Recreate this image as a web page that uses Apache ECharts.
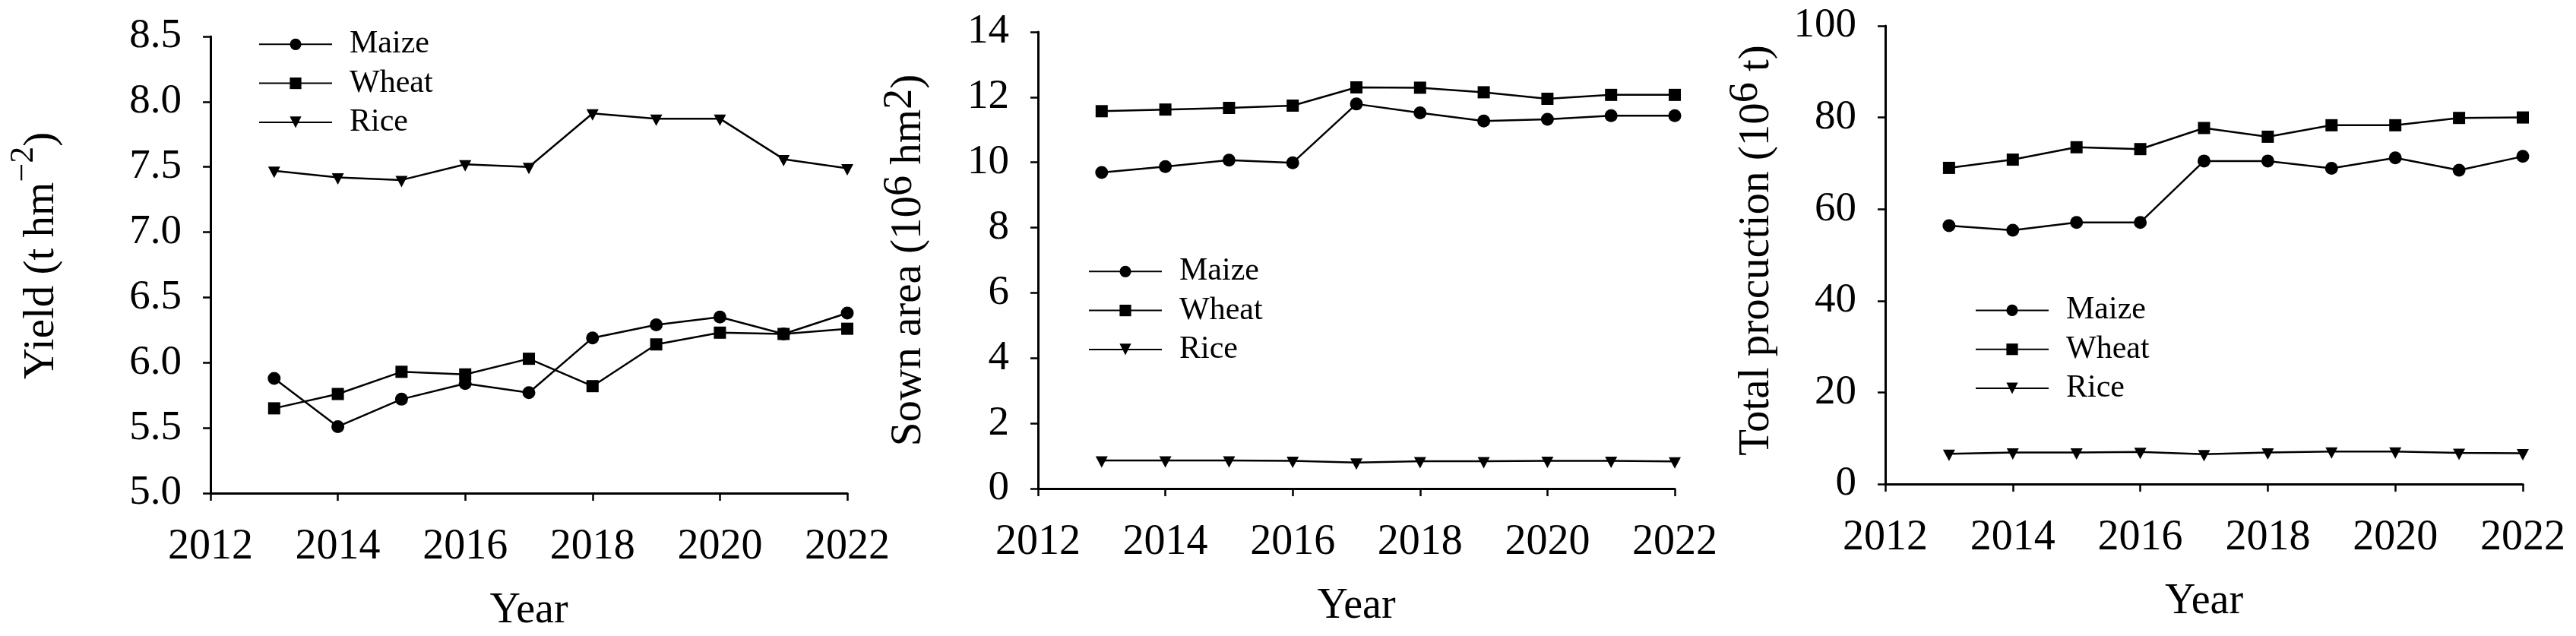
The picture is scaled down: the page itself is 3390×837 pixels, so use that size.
<!DOCTYPE html>
<html><head><meta charset="utf-8">
<script src="https://cdn.jsdelivr.net/npm/echarts@6/dist/echarts.min.js"></script>
<style>html,body{margin:0;padding:0;background:#fff}#c{width:3390px;height:837px}</style>
</head><body><div id="c"></div>
<script>
const years = [2013, 2014, 2015, 2016, 2017, 2018, 2019, 2020, 2021, 2022];
const seriesNames = ['Maize', 'Wheat', 'Rice'];

const yieldMaize = [5.88, 5.51, 5.72, 5.84, 5.77, 6.19, 6.29, 6.35, 6.22, 6.38];
const yieldWheat = [5.65, 5.76, 5.93, 5.91, 6.03, 5.82, 6.14, 6.23, 6.22, 6.26];
const yieldRice  = [7.47, 7.42, 7.40, 7.52, 7.50, 7.91, 7.87, 7.87, 7.56, 7.49];

const areaMaize = [9.69, 9.87, 10.07, 9.99, 11.79, 11.52, 11.27, 11.32, 11.43, 11.43];
const areaWheat = [11.57, 11.62, 11.67, 11.74, 12.30, 12.29, 12.15, 11.95, 12.07, 12.07];
const areaRice  = [0.86, 0.86, 0.86, 0.85, 0.80, 0.84, 0.84, 0.85, 0.85, 0.83];

const prodMaize = [56.4, 55.4, 57.1, 57.1, 70.5, 70.5, 68.9, 71.2, 68.5, 71.5];
const prodWheat = [69.0, 70.8, 73.5, 73.1, 77.7, 75.8, 78.3, 78.3, 79.9, 80.0];
const prodRice  = [6.6, 6.9, 6.9, 7.0, 6.5, 6.9, 7.1, 7.1, 6.8, 6.7];

const xTicks = { min: 2012, max: 2022, interval: 2 };
const yTicks = [
  { min: 5, max: 8.5, interval: 0.5, digits: 1 },
  { min: 0, max: 14, interval: 2, digits: 0 },
  { min: 0, max: 100, interval: 20, digits: 0 }
];
const xTitle = 'Year';
const yTitles = [
  '{m|Yield (t hm}{s|\u22122}{m|)}',
  '{m|Sown area (10}{s|6}{m| hm}{s|2}{m|)}',
  '{m|Total procuction (10}{s|6}{m| t)}'
];

const FONT = 'Liberation Serif';
const grids = [
  { left: 277, top: 48, width: 838, height: 601 },
  { left: 1366, top: 42, width: 838, height: 601 },
  { left: 2481, top: 34, width: 839, height: 603 }
];
const nameGaps = [176, 132, 128];
const nameRich = [
  { m: { fontSize: 57, lineHeight: 92, fontFamily: FONT, color: '#000' }, s: { fontSize: 44, verticalAlign: 'top', fontFamily: FONT, color: '#000' } },
  { m: { fontSize: 57, lineHeight: 76, fontFamily: FONT, color: '#000' }, s: { fontSize: 54, verticalAlign: 'top', fontFamily: FONT, color: '#000' } },
  { m: { fontSize: 57, lineHeight: 82, fontFamily: FONT, color: '#000' }, s: { fontSize: 54, verticalAlign: 'top', fontFamily: FONT, color: '#000' } }
];
const namePad = [[0, 0, 0, 24], [0, 0, 0, 0], [0, 0, 0, 12]];
const legendPos = [{ left: 340, top: 37.3 }, { left: 1432, top: 336.3 }, { left: 2599, top: 387.4 }];

const panels = [
  [yieldMaize, yieldWheat, yieldRice],
  [areaMaize, areaWheat, areaRice],
  [prodMaize, prodWheat, prodRice]
];
const symbols = ['circle', 'rect', 'path://M0,0L10,0L5,9.4Z'];
const symbolSizes = [17, 16, [16, 15]];
const symbolOffsets = [[0, 0], [0, 0], [0, 2]];

const xAxes = [], yAxes = [], series = [], legends = [];
for (let i = 0; i < 3; i++) {
  xAxes.push({
    gridIndex: i, type: 'value', min: xTicks.min, max: xTicks.max, interval: xTicks.interval,
    axisLine: { onZero: false, lineStyle: { color: '#000', width: 3 } },
    axisTick: { length: 10, lineStyle: { color: '#000', width: 2.5 } },
    axisLabel: { margin: 43, fontSize: 56, color: '#000', fontFamily: FONT,
      formatter: (v) => String(v) },
    splitLine: { show: false },
    name: xTitle, nameLocation: 'middle', nameGap: 127,
    nameTextStyle: { fontSize: 56, color: '#000', fontFamily: FONT }
  });
  const yt = yTicks[i];
  yAxes.push({
    gridIndex: i, type: 'value', min: yt.min, max: yt.max, interval: yt.interval,
    axisLine: { show: true, onZero: false, lineStyle: { color: '#000', width: 3 } },
    axisTick: { show: true, length: 10, lineStyle: { color: '#000', width: 2.5 } },
    axisLabel: { margin: 38, fontSize: 55, color: '#000', fontFamily: FONT,
      formatter: (v) => v.toFixed(yt.digits) },
    splitLine: { show: false },
    name: yTitles[i], nameLocation: 'middle', nameGap: nameGaps[i],
    nameTextStyle: { rich: nameRich[i], padding: namePad[i] }
  });
  for (let k = 0; k < 3; k++) {
    series.push({
      type: 'line', name: seriesNames[k], xAxisIndex: i, yAxisIndex: i,
      data: years.map((y, j) => [y, panels[i][k][j]]),
      symbol: symbols[k], symbolSize: symbolSizes[k], symbolOffset: symbolOffsets[k],
      showAllSymbol: true, clip: false,
      lineStyle: { color: '#000', width: 2.5 },
      itemStyle: { color: '#000' }
    });
  }
  legends.push({
    orient: 'vertical', left: legendPos[i].left, top: legendPos[i].top, padding: 0,
    itemWidth: 96, itemHeight: 19, itemGap: 9.3, selectedMode: false,
    data: seriesNames,
    textStyle: { fontFamily: FONT, fontSize: 42, color: '#000', padding: [0, 0, 0, 18] }
  });
}

const chart = echarts.init(document.getElementById('c'), null, { renderer: 'canvas' });
chart.setOption({
  animation: false,
  backgroundColor: '#fff',
  grid: grids.map(g => Object.assign({ containLabel: false, outerBoundsMode: 'none' }, g)),
  xAxis: xAxes, yAxis: yAxes, legend: legends, series: series
});
</script></body></html>
